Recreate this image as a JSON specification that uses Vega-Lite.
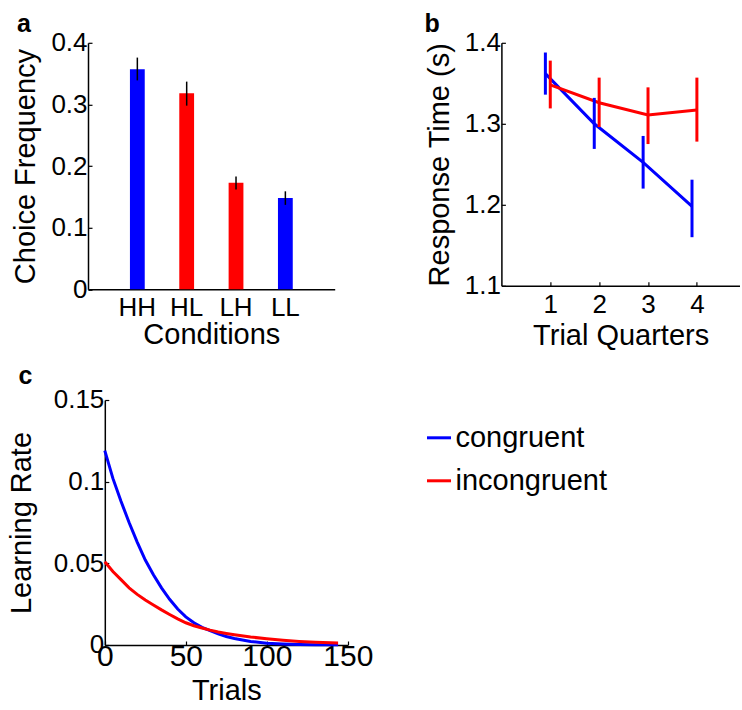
{
  "$schema": "https://vega.github.io/schema/vega-lite/v6.json",
  "padding": {"left": 7, "top": 11.8, "right": 0, "bottom": 0},
  "background": "white",
  "spacing": 13.2,
  "config": {
    "font": "Liberation Sans",
    "view": {"stroke": null},
    "axis": {
      "labelFont": "Liberation Sans", "titleFont": "Liberation Sans",
      "labelColor": "black", "titleColor": "black",
      "labelFontSize": 26, "titleFontSize": 29, "titleFontWeight": "normal",
      "domainColor": "black", "domainWidth": 1.5, "tickColor": "black", "tickWidth": 1.2,
      "tickSize": -4, "grid": false, "labelPadding": 5, "labelFlush": false, "labelOverlap": false
    },
    "title": {"font": "Liberation Sans", "fontWeight": "bold", "fontSize": 25, "anchor": "start", "frame": "group", "color": "black", "baseline": "alphabetic"},
    "legend": {"labelFont": "Liberation Sans", "labelFontSize": 29, "labelColor": "black"}
  },
  "resolve": {"scale": {"color": "independent"}, "legend": {"color": "independent"}},
  "vconcat": [
    {
      "spacing": 89.4,
      "resolve": {"scale": {"color": "independent"}, "legend": {"color": "independent"}},
      "hconcat": [
        {
          "width": 246.7, "height": 246.5,
          "title": {"text": "a", "dx": -71, "offset": -7.3},
          "data": {"values": [
            {"cond": "HH", "type": "congruent", "freq": 0.357, "lo": 0.339, "hi": 0.376},
            {"cond": "HL", "type": "incongruent", "freq": 0.318, "lo": 0.298, "hi": 0.337},
            {"cond": "LH", "type": "incongruent", "freq": 0.173, "lo": 0.162, "hi": 0.183},
            {"cond": "LL", "type": "congruent", "freq": 0.148, "lo": 0.137, "hi": 0.159}
          ]},
          "layer": [
            {
              "mark": {"type": "bar"},
              "encoding": {
                "x": {"field": "cond", "type": "nominal", "sort": null,
                      "scale": {"paddingInner": 0.7, "paddingOuter": 0.85},
                      "axis": {"title": "Conditions", "labelAngle": 0, "ticks": false, "labelPadding": 5, "titlePadding": 0}},
                "y": {"field": "freq", "type": "quantitative",
                      "scale": {"domain": [0, 0.4], "nice": false},
                      "axis": {"title": "Choice Frequency", "values": [0, 0.1, 0.2, 0.3, 0.4], "format": ".1~f", "titlePadding": 10}},
                "color": {"field": "type", "type": "nominal",
                          "scale": {"domain": ["congruent", "incongruent"], "range": ["#0000FF", "#FF0000"]},
                          "legend": null}
              }
            },
            {
              "mark": {"type": "rule", "color": "black", "strokeWidth": 1.5},
              "encoding": {
                "x": {"field": "cond", "type": "nominal", "sort": null},
                "y": {"field": "lo", "type": "quantitative"},
                "y2": {"field": "hi"}
              }
            }
          ]
        },
        {
          "width": 238.5, "height": 243,
          "title": {"text": "b", "dx": -77, "offset": -7.3},
          "data": {"values": [
            {"condition": "congruent", "quarter": 0.9, "rt": 1.362, "lo": 1.336, "hi": 1.388},
            {"condition": "congruent", "quarter": 1.9, "rt": 1.300, "lo": 1.269, "hi": 1.332},
            {"condition": "congruent", "quarter": 2.9, "rt": 1.2525, "lo": 1.220, "hi": 1.285},
            {"condition": "congruent", "quarter": 3.9, "rt": 1.198, "lo": 1.160, "hi": 1.231},
            {"condition": "incongruent", "quarter": 1, "rt": 1.348, "lo": 1.319, "hi": 1.378},
            {"condition": "incongruent", "quarter": 2, "rt": 1.326, "lo": 1.296, "hi": 1.357},
            {"condition": "incongruent", "quarter": 3, "rt": 1.311, "lo": 1.275, "hi": 1.345},
            {"condition": "incongruent", "quarter": 4, "rt": 1.317, "lo": 1.278, "hi": 1.357}
          ]},
          "encoding": {
            "x": {"field": "quarter", "type": "quantitative",
                  "scale": {"domain": [0, 4.88], "nice": false},
                  "axis": {"title": "Trial Quarters", "values": [1, 2, 3, 4], "labelPadding": 10, "titlePadding": 4}},
            "color": {"field": "condition", "type": "nominal",
                      "scale": {"domain": ["congruent", "incongruent"], "range": ["#0000FF", "#FF0000"]},
                      "legend": null}
          },
          "layer": [
            {
              "mark": {"type": "line", "strokeWidth": 3},
              "encoding": {
                "y": {"field": "rt", "type": "quantitative",
                      "scale": {"domain": [1.1, 1.4], "nice": false},
                      "axis": {"title": "Response Time (s)", "values": [1.1, 1.2, 1.3, 1.4], "format": ".1f", "titlePadding": 10}}
              }
            },
            {
              "mark": {"type": "rule", "strokeWidth": 3},
              "encoding": {
                "y": {"field": "lo", "type": "quantitative"},
                "y2": {"field": "hi"}
              }
            }
          ]
        }
      ]
    },
    {
      "width": 259.8, "height": 245,
      "title": {"text": "c", "dx": -69.5, "offset": -2.3},
      "data": {"values": [
        {"condition": "congruent", "trial": 0, "rate": 0.119},
        {"condition": "congruent", "trial": 5, "rate": 0.102},
        {"condition": "congruent", "trial": 10, "rate": 0.088},
        {"condition": "congruent", "trial": 15, "rate": 0.075},
        {"condition": "congruent", "trial": 20, "rate": 0.063},
        {"condition": "congruent", "trial": 25, "rate": 0.052},
        {"condition": "congruent", "trial": 30, "rate": 0.043},
        {"condition": "congruent", "trial": 35, "rate": 0.035},
        {"condition": "congruent", "trial": 40, "rate": 0.028},
        {"condition": "congruent", "trial": 45, "rate": 0.022},
        {"condition": "congruent", "trial": 50, "rate": 0.0172},
        {"condition": "congruent", "trial": 55, "rate": 0.0136},
        {"condition": "congruent", "trial": 60, "rate": 0.0108},
        {"condition": "congruent", "trial": 65, "rate": 0.0088},
        {"condition": "congruent", "trial": 70, "rate": 0.0068},
        {"condition": "congruent", "trial": 75, "rate": 0.0052},
        {"condition": "congruent", "trial": 80, "rate": 0.0040},
        {"condition": "congruent", "trial": 90, "rate": 0.0022},
        {"condition": "congruent", "trial": 100, "rate": 0.0011},
        {"condition": "congruent", "trial": 110, "rate": 0.0006},
        {"condition": "congruent", "trial": 120, "rate": 0.0003},
        {"condition": "congruent", "trial": 130, "rate": 0.0002},
        {"condition": "congruent", "trial": 144, "rate": 0.0001},
        {"condition": "incongruent", "trial": 0, "rate": 0.051},
        {"condition": "incongruent", "trial": 5, "rate": 0.045},
        {"condition": "incongruent", "trial": 10, "rate": 0.040},
        {"condition": "incongruent", "trial": 15, "rate": 0.035},
        {"condition": "incongruent", "trial": 20, "rate": 0.031},
        {"condition": "incongruent", "trial": 25, "rate": 0.0275},
        {"condition": "incongruent", "trial": 30, "rate": 0.0245},
        {"condition": "incongruent", "trial": 35, "rate": 0.0215},
        {"condition": "incongruent", "trial": 40, "rate": 0.0187},
        {"condition": "incongruent", "trial": 45, "rate": 0.0160},
        {"condition": "incongruent", "trial": 50, "rate": 0.0136},
        {"condition": "incongruent", "trial": 55, "rate": 0.0118},
        {"condition": "incongruent", "trial": 60, "rate": 0.0104},
        {"condition": "incongruent", "trial": 65, "rate": 0.0091},
        {"condition": "incongruent", "trial": 70, "rate": 0.0080},
        {"condition": "incongruent", "trial": 75, "rate": 0.0071},
        {"condition": "incongruent", "trial": 80, "rate": 0.0063},
        {"condition": "incongruent", "trial": 90, "rate": 0.0049},
        {"condition": "incongruent", "trial": 100, "rate": 0.0038},
        {"condition": "incongruent", "trial": 110, "rate": 0.0029},
        {"condition": "incongruent", "trial": 120, "rate": 0.0022},
        {"condition": "incongruent", "trial": 130, "rate": 0.0017},
        {"condition": "incongruent", "trial": 144, "rate": 0.0012}
      ]},
      "mark": {"type": "line", "strokeWidth": 3},
      "encoding": {
        "x": {"field": "trial", "type": "quantitative",
              "scale": {"domain": [0, 150], "nice": false, "range": [16.8, 259.8]},
              "axis": {"title": "Trials", "values": [0, 50, 100, 150], "labelFontSize": 30, "labelPadding": 1, "titlePadding": 5}},
        "y": {"field": "rate", "type": "quantitative",
              "scale": {"domain": [0, 0.15], "nice": false},
              "axis": {"title": "Learning Rate", "values": [0, 0.05, 0.1, 0.15], "format": ".2~f", "titlePadding": 17, "offset": -16.8}},
        "color": {"field": "condition", "type": "nominal",
                  "scale": {"domain": ["congruent", "incongruent"], "range": ["#0000FF", "#FF0000"]},
                  "legend": {"orient": "none", "legendX": 336.5, "legendY": 23.3, "title": null,
                             "symbolType": "stroke", "symbolSize": 576, "symbolStrokeWidth": 3,
                             "labelOffset": 2, "rowPadding": 13, "padding": 0, "labelLimit": 400}}
      }
    }
  ]
}
